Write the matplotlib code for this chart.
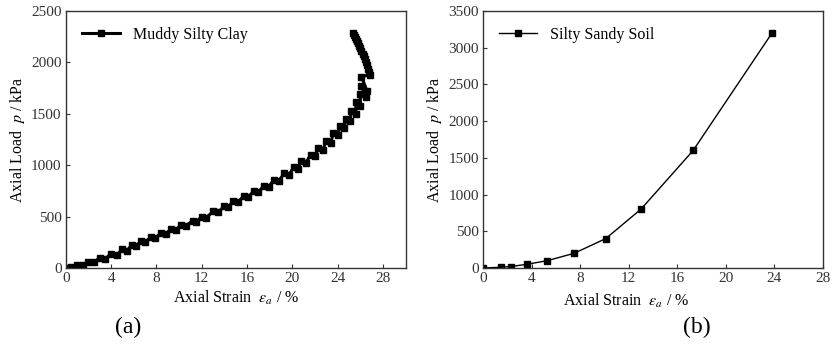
import matplotlib.pyplot as plt

plt.rcParams['font.family'] = ['Liberation Serif', 'DejaVu Serif']
plt.rcParams['mathtext.fontset'] = 'stix'

# Muddy Silty Clay: stepwise loading (each step followed by a creep point)
clay_strain = [0.0, 0.5, 1.0, 1.5, 2.0, 2.5, 3.0, 3.5, 4.0, 4.5, 5.0, 5.4,
               5.8, 6.2, 6.6, 7.0, 7.5, 7.9, 8.4, 8.8, 9.3, 9.7, 10.2, 10.6,
               11.2, 11.5, 12.0, 12.4, 13.0, 13.4, 14.0, 14.3, 14.8, 15.2,
               15.7, 16.1, 16.6, 17.0, 17.5, 17.9, 18.4, 18.8, 19.3, 19.7,
               20.1, 20.5, 20.8, 21.2, 21.6, 22.0, 22.3, 22.7, 23.0, 23.4,
               23.6, 24.0, 24.2, 24.6, 24.7, 25.1, 25.2, 25.6, 25.6, 26.0,
               26.0, 26.5, 26.1, 26.6, 26.1, 26.85, 26.8, 26.7, 26.6, 26.5,
               26.4, 26.3, 26.2, 26.1, 26.0, 25.9, 25.8, 25.7, 25.6, 25.5,
               25.4, 25.35]
clay_load = [0, 5, 30, 25, 60, 55, 100, 90, 140, 130, 180, 170, 220, 210,
             260, 250, 300, 290, 340, 330, 380, 370, 420, 410, 460, 450, 500,
             490, 550, 540, 600, 590, 650, 640, 700, 690, 750, 740, 800, 790,
             860, 850, 920, 905, 980, 965, 1040, 1025, 1100, 1085, 1170, 1150,
             1240, 1220, 1310, 1290, 1380, 1360, 1450, 1430, 1530, 1500, 1610,
             1580, 1690, 1660, 1770, 1720, 1860, 1880, 1910, 1940, 1970, 2000,
             2030, 2060, 2085, 2110, 2135, 2160, 2185, 2210, 2230, 2250, 2270,
             2285]

# Silty Sandy Soil
sand_strain = [0.0, 1.5, 2.3, 3.6, 5.3, 7.5, 10.1, 13.0, 17.3, 23.8]
sand_load = [0, 10, 20, 50, 100, 200, 400, 800, 1600, 3200]

fig = plt.figure(figsize=(8.33, 3.54), dpi=100)
ax1 = fig.add_axes([0.079, 0.243, 0.408, 0.726])
ax2 = fig.add_axes([0.580, 0.243, 0.408, 0.726])

ax1.plot(clay_strain, clay_load, color='black', lw=2.2, marker='s', ms=4.2,
         label='Muddy Silty Clay')
ax2.plot(sand_strain, sand_load, color='black', lw=1.0, marker='s', ms=4.5,
         label='Silty Sandy Soil')

ax1.set_xlim(0, 30)
ax1.set_ylim(0, 2500)
ax1.set_xticks(range(0, 29, 4))
ax1.set_yticks(range(0, 2501, 500))
ax2.set_xlim(0, 28)
ax2.set_ylim(0, 3500)
ax2.set_xticks(range(0, 29, 4))
ax2.set_yticks(range(0, 3501, 500))

for ax in (ax1, ax2):
    ax.tick_params(direction='in', length=3, width=0.8, labelsize=11,
                   colors='#333333', pad=3)
    for s in ax.spines.values():
        s.set_linewidth(1.0)
        s.set_color('#333333')
    ax.set_xlabel(r'Axial Strain  $\varepsilon_a$ / %', fontsize=11.5,
                  labelpad=3)
    ax.set_ylabel(r'Axial Load  $p$ / kPa', fontsize=11.5, labelpad=3)
    ax.legend(loc='upper left', frameon=False, fontsize=11.5,
              handlelength=2.4, borderaxespad=0.6, handletextpad=0.8)

ax2.xaxis.set_label_coords(0.42, -0.095)

fig.text(0.154, 0.06, '(a)', fontsize=17, ha='center')
fig.text(0.836, 0.06, '(b)', fontsize=17, ha='center')

fig.savefig('out.png', dpi=100)
